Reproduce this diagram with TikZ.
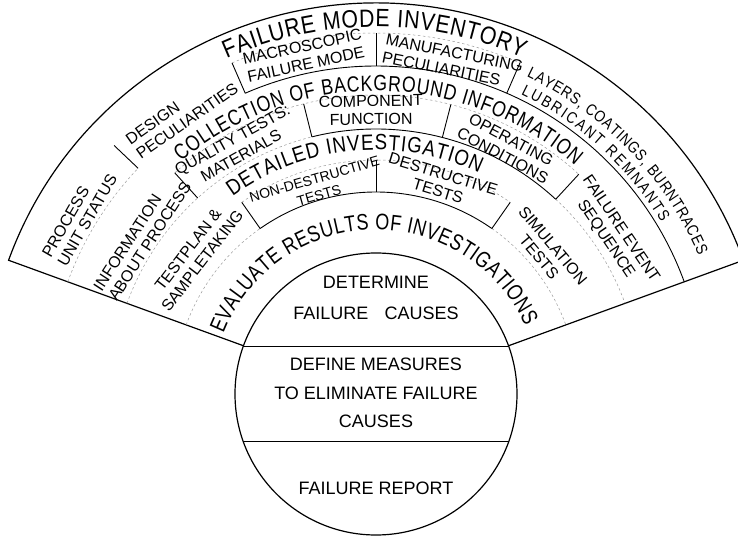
\documentclass[tikz,border=0pt]{standalone}
\usepackage{fontspec}
\setmainfont{Liberation Sans}
\newfontfamily\hf{Liberation Sans}
\newfontfamily\hfc{Liberation Sans}[FakeStretch=0.85]
\newfontfamily\hfn{Liberation Sans}[FakeStretch=0.8]
\usetikzlibrary{decorations.text}
\tikzset{
  inner/.style={line width=0.9pt},
  outline/.style={line width=1.2pt},
  faint/.style={line width=0.5pt, black!40, dash pattern=on 2.5pt off 2.5pt},
  cell/.style={font=\hf\fontsize{16}{18}\selectfont, align=center, inner sep=0pt},
  lcell/.style={cell, align=left},
  smallcell/.style={font=\hf\fontsize{14}{17}\selectfont, align=center, inner sep=0pt},
  circtext/.style={font=\hf\fontsize{18}{20}\selectfont, align=center, inner sep=0pt},
}
\begin{document}
\begin{tikzpicture}[x=1pt,y=1pt]
\useasboundingbox (-376,-141) rectangle (362,394);

% central circle and its chords
\draw[outline] (0,0) circle[radius=141pt];
\draw[inner] (-132.6,48) -- (132.6,48);
\draw[inner] (-132.9,-47) -- (132.9,-47);

% fan outline
\draw[outline] (160:141pt) -- (160:391pt) arc[start angle=160,end angle=20,radius=391pt] -- (20:141pt);

% layer boundaries
\draw[faint] (160:328pt) arc[start angle=160,end angle=136.5,radius=328pt];
\draw[inner] (113.5:328pt) arc[start angle=113.5,end angle=20,radius=328pt];
\draw[faint] (160:265pt) arc[start angle=160,end angle=104,radius=265pt];
\draw[inner] (104:265pt) arc[start angle=104,end angle=47.3,radius=265pt];
\draw[faint] (47.3:265pt) arc[start angle=47.3,end angle=20,radius=265pt];
\draw[faint] (160:202pt) arc[start angle=160,end angle=125,radius=202pt];
\draw[inner] (125:202pt) arc[start angle=125,end angle=55,radius=202pt];
\draw[faint] (55:202pt) arc[start angle=55,end angle=20,radius=202pt];

% title separators
\draw[faint] (113.5:361pt) arc[start angle=113.5,end angle=66.5,radius=361pt];
\draw[faint] (132.3:299pt) arc[start angle=132.3,end angle=47.3,radius=299pt];
\draw[faint] (125:234pt) arc[start angle=125,end angle=55,radius=234pt];

% radial separators
\foreach \a in {136.5,113.5,90,66.5} \draw[inner] (\a:328pt) -- (\a:361pt);
\foreach \a in {132.3,104,75.5,47.3} \draw[inner] (\a:265pt) -- (\a:299pt);
\foreach \a in {125,90,55} \draw[inner] (\a:202pt) -- (\a:234pt);

% curved titles
\path[decorate,decoration={text along path,
  text={|\hfc\fontsize{25}{25}\selectfont|FAILURE MODE INVENTORY},
  text align={fit to path}}]
  (114:367pt) arc[start angle=114,end angle=66.5,radius=367pt];
\path[decorate,decoration={text along path,
  text={|\hfc\fontsize{16}{16}\selectfont|LAYERS, COATINGS, BURNTRACES},
  text align={fit to path}}]
  (64.6:351pt) arc[start angle=64.6,end angle=23.3,radius=351pt];
\path[decorate,decoration={text along path,
  text={|\hfc\fontsize{16}{16}\selectfont|LUBRICANT REMNANTS},
  text align={fit to path}}]
  (64.2:333pt) arc[start angle=64.2,end angle=31,radius=333pt];
\path[decorate,decoration={text along path,
  text={|\hfn\fontsize{22}{22}\selectfont|COLLECTION OF BACKGROUND INFORMATION},
  text align={fit to path}}]
  (130:303pt) arc[start angle=130,end angle=49,radius=303pt];
\path[decorate,decoration={text along path,
  text={|\hfc\fontsize{22}{22}\selectfont|DETAILED INVESTIGATION},
  text align={fit to path}}]
  (126:244pt) arc[start angle=126,end angle=65,radius=244pt];
\path[decorate,decoration={text along path,
  text={|\hfn\fontsize{22.5}{22.5}\selectfont|EVALUATE RESULTS OF INVESTIGATIONS},
  text align={fit to path}}]
  (158.5:164pt) arc[start angle=158.5,end angle=24.5,radius=164pt];

% layer 1 cells
\node[lcell,rotate=60] (pus) at (149:346pt) {PROCESS\\UNIT STATUS};
\node[lcell,rotate=35] (dp) at (124.7:341pt) {DESIGN\\PECULIARITIES};
\node[cell,rotate=12] (mfm) at (102:346pt) {MACROSCOPIC\\FAILURE MODE};
\node[lcell,rotate=-11.5] (mp) at (77:341pt) {MANUFACTURING\\PECULIARITIES};

% layer 2 cells
\node[lcell,rotate=57] (iap) at (146:282pt) {INFORMATION\\ABOUT PROCESS};
\node[cell,rotate=29] (qtm) at (119.5:283pt) {QUALITY TESTS:\\MATERIALS};
\node[cell,rotate=1] (cf) at (91:284pt) {COMPONENT\\FUNCTION};
\node[cell,rotate=-28] (oc) at (62:279pt) {OPERATING\\CONDITIONS};
\node[cell,rotate=-56] (fes) at (34:286pt) {FAILURE EVENT\\SEQUENCE};

% layer 3 cells
\node[cell,rotate=52.5] (tps) at (142.5:228pt) {TESTPLAN \&\\SAMPLETAKING};
\node[smallcell,rotate=16] (ndt) at (106:215pt) {NON-DESTRUCTIVE\\TESTS};
\node[cell,rotate=-17] (dt) at (73:221pt) {DESTRUCTIVE\\TESTS};
\node[cell,rotate=-50] (st) at (40:222pt) {SIMULATION\\TESTS};

% circle texts
\node[circtext] (c1) at (0,112) {DETERMINE};
\node[circtext] (c2) at (0,81) {FAILURE\hspace{0.9em}CAUSES};
\node[circtext] (c3) at (0,30) {DEFINE MEASURES};
\node[circtext] (c4) at (0,1) {TO ELIMINATE FAILURE};
\node[circtext] (c5) at (0,-27) {CAUSES};
\node[circtext] (c6) at (0,-94) {FAILURE REPORT};
\end{tikzpicture}
\end{document}
